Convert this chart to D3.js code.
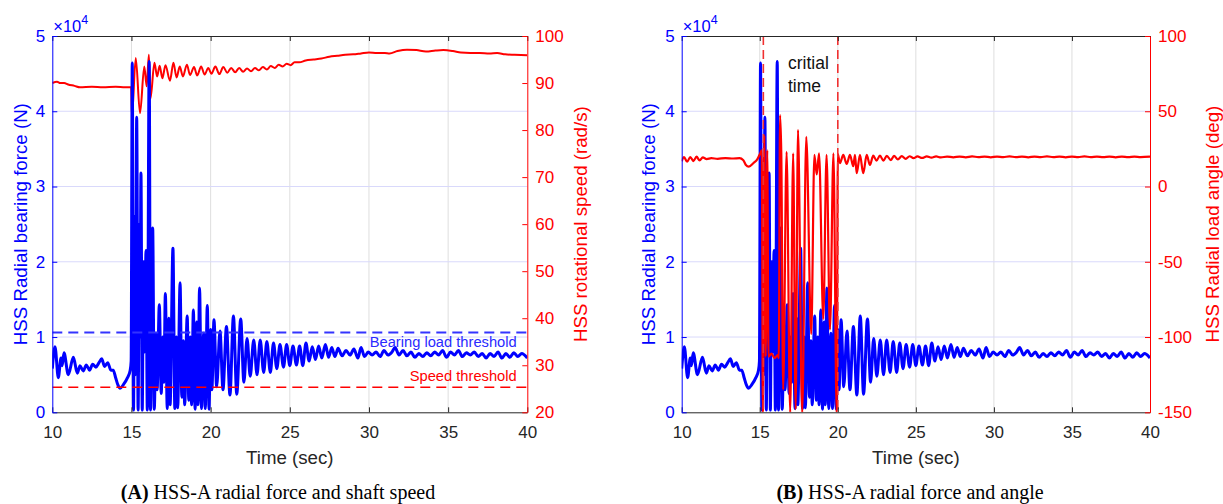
<!DOCTYPE html>
<html>
<head>
<meta charset="utf-8">
<script src="https://d3js.org/d3.v7.min.js"></script>
<style>
  body { margin: 0; background: #fff; }
  svg { display: block; font-family: "Liberation Sans", Arial, sans-serif; }
</style>
</head>
<body>
<svg width="1223" height="504"></svg>
<script>
// ---- data ----
var timeTicks  = [10, 15, 20, 25, 30, 35, 40];
var forceTicks = [0, 1, 2, 3, 4, 5];              // x 10^4 N
var speedTicks = [20, 30, 40, 50, 60, 70, 80, 90, 100];
var angleTicks = [-150, -100, -50, 0, 50, 100];

var bearingThreshold = 1.06;   // x 10^4 N
var speedThreshold = 25.3;     // rad/s
var criticalTimes = [15.23, 20];

// HSS radial bearing force (x 10^4 N), turning points
var forceT = [10.0,10.17,10.38,10.55,10.62,10.74,11.01,11.33,11.58,11.75,11.95,12.15,12.35,12.55,12.75,12.95,13.12,13.3,13.5,13.7,13.85,14.0,14.15,14.28,14.5,14.75,14.92,14.98,
  15.05,15.13,15.2,15.25,15.33,15.42,15.5,15.54,15.6,15.68,15.76,15.82,15.92,16.0,16.12,16.2,
  16.34,16.44,16.55,16.62,16.76,16.88,16.98,17.05,17.14,17.26,17.36,17.44,17.62,17.74,17.84,17.92,18.07,18.18,18.28,18.36,18.52,18.62,18.72,18.8,18.91,19.02,19.12,19.2,19.3,19.42,19.56,19.66,19.79,19.9,20.0,20.08,
  20.21,20.38,20.59,20.78,21.0,21.22,21.44,21.65,21.9,22.1,22.3,22.5,22.72,22.93,23.13,23.35,23.55,23.77,23.97,24.18,24.38,24.6,24.8,25.0,25.2,25.42,25.62,25.82,26.02,26.22,26.42,26.62,26.82,27.02,27.25,27.45,27.65,27.85,28.05,28.3,28.55,28.8,29.05,29.3,29.5,29.72,29.95,30.2,30.45,30.7,30.95,31.2,31.45,31.65,31.9,32.15,32.4,32.65,32.9,33.15,33.4,33.65,33.9,34.15,34.4,34.65,34.9,35.15,35.4,35.65,35.9,36.15,36.4,36.65,36.9,37.15,37.4,37.65,37.9,38.15,38.4,38.65,38.9,39.15,39.4,39.65,40.0];
var forceV = [0.58,0.87,0.46,0.72,0.62,0.79,0.50,0.73,0.52,0.62,0.55,0.63,0.56,0.64,0.60,0.66,0.71,0.61,0.66,0.56,0.56,0.46,0.36,0.32,0.37,0.46,0.56,0.68,
  4.64,0.03,2.6,0.5,3.92,0.03,2.5,1.0,3.18,0.03,2.0,0.8,2.15,0.03,4.66,0.03,
  2.45,0.04,1.05,0.3,1.43,0.25,1.0,0.4,1.58,0.05,1.25,0.1,2.18,0.05,1.0,0.06,1.72,0.2,0.95,0.1,1.28,0.16,1.0,0.1,1.36,0.04,1.2,0.1,1.65,0.05,1.05,0.05,1.42,0.04,1.1,0.3,
  1.23,0.34,1.08,0.30,1.14,0.23,1.28,0.24,1.24,0.40,0.98,0.48,0.96,0.50,0.96,0.53,0.94,0.53,0.92,0.58,0.90,0.60,0.90,0.62,0.88,0.63,0.88,0.62,0.92,0.68,0.87,0.70,0.88,0.72,0.90,0.73,0.86,0.74,0.85,0.75,0.82,0.76,0.84,0.72,0.86,0.74,0.80,0.76,0.80,0.74,0.82,0.76,0.80,0.86,0.76,0.82,0.75,0.80,0.73,0.78,0.74,0.79,0.75,0.80,0.76,0.82,0.73,0.80,0.76,0.82,0.74,0.79,0.76,0.80,0.74,0.78,0.72,0.78,0.74,0.80,0.72,0.78,0.73,0.79,0.74,0.78,0.72];

// HSS rotational speed (rad/s)
var speedT = [10.0,10.3,10.5,10.75,11.0,11.4,11.75,12.5,13.2,14.0,14.6,14.98,15.03,15.27,15.54,15.81,15.96,16.1,16.2,16.45,16.62,16.78,16.95,17.15,17.43,17.65,17.85,18.05,18.25,18.5,18.7,18.95,19.15,19.4,19.62,19.85,20.05,20.3,20.55,20.8,21.05,21.3,21.55,21.8,22.05,22.3,22.55,22.8,23.05,23.3,23.55,23.8,24.05,24.3,24.55,24.8,25.05,25.3,25.6,26.0,26.5,27.0,27.5,28.0,28.5,29.0,29.5,30.0,30.5,31.0,31.3,31.8,32.4,33.0,33.6,34.2,34.7,35.3,35.8,36.4,37.0,37.6,38.1,38.6,39.2,40.0];
var speedV = [90.0,90.3,90.0,90.0,89.7,89.4,89.1,89.2,89.1,89.2,89.1,89.1,82.9,95.3,83.6,93.5,89.3,96.0,86.7,94.3,91.4,93.7,91.0,93.8,90.5,94.3,91.2,93.5,91.4,93.9,91.7,93.4,91.6,93.5,91.8,93.2,92.0,93.5,91.9,93.4,92.2,93.2,92.3,93.2,92.4,93.1,92.5,93.2,92.7,93.4,92.9,93.6,93.2,93.9,93.5,94.1,93.8,94.4,94.4,94.8,95.0,95.2,95.6,95.8,96.0,96.1,96.3,96.5,96.4,96.4,96.3,96.8,97.1,97.0,96.7,96.9,97.0,96.8,96.5,96.4,96.4,96.3,96.4,96.1,96.0,95.9];

// HSS radial load angle (deg)
var angleT = [10.0,10.15,10.35,10.55,10.75,10.95,11.15,11.35,11.6,11.9,12.3,12.8,13.3,13.7,13.95,14.1,14.3,14.6,14.85,15.05,15.13,15.2,15.29,15.38,15.48,15.56,15.75,15.95,16.15,16.22,16.3,16.38,16.5,16.72,16.95,17.14,17.3,17.45,17.72,17.98,18.3,18.5,18.65,18.8,19.07,19.28,19.5,19.72,19.93,20.0,
  20.14,20.35,20.57,20.78,20.99,21.1,21.21,21.42,21.63,21.85,22.06,22.27,22.48,22.7,22.92,23.14,23.4,23.6,23.85,24.1,24.35,24.6,24.85,25.1,25.4,25.7,
  26.0,26.3,26.6,27.0,27.4,27.8,28.2,28.6,29.0,29.4,29.8,30.2,30.6,31.0,31.4,31.8,32.2,32.6,33.0,33.4,33.8,34.2,34.6,35.0,35.4,35.8,36.2,36.6,37.0,37.4,37.8,38.2,38.6,39.0,39.4,40.0];
var angleV = [16.8,19.5,16.5,19.6,16.9,19.8,17.3,19.3,18.2,18.8,18.4,18.9,18.6,18.8,17.5,14.5,13.2,15.6,18.2,22.5,24,-150,34,-113,24,-113,-111,-114,-112,-114,47.5,22,-135,23,-150,22,-148,37.7,-150,33,-98,21,8,22,-88,21,-95,22,-150,21.5,
  15.5,21,15,21,13.5,21,8.8,21,8.8,21,14.3,20.5,17.2,20.5,17.2,20.3,17.6,20.3,18,20.2,18.4,20.1,18.8,20,19.0,20,
  19.2,20.0,19.3,19.9,19.4,19.9,19.4,20.0,19.5,19.9,19.4,19.9,19.5,20.0,19.5,19.9,19.4,19.9,19.5,20.0,19.5,19.9,19.4,19.9,19.5,20.0,19.5,19.9,19.5,19.9,19.4,19.9,19.5,19.9,19.5,19.8];

var forceData = d3.zip(forceT, forceV);
var speedData = d3.zip(speedT, speedV);
var angleData = d3.zip(angleT, angleV);

var svg = d3.select("svg");
var BLUE = "#0000ff", RED = "#ff0000", DARK = "#262626";

function makePanel(p) {
    var x  = d3.scaleLinear().domain([10, 40]).range([p.x0, p.x1]);
    var yL = d3.scaleLinear().domain([0, 5]).range([p.y1, p.y0]);
    var yR = d3.scaleLinear().domain(p.rDomain).range([p.y1, p.y0]);
    var g = svg.append("g");

    g.append("clipPath").attr("id", p.id + "clip")
     .append("rect")
     .attr("x", p.x0).attr("y", p.y0)
     .attr("width", p.x1 - p.x0).attr("height", p.y1 - p.y0);

    // grid
    g.selectAll(".vgrid").data(timeTicks.slice(1, -1)).enter().append("line")
     .attr("x1", function(d) { return x(d); }).attr("x2", function(d) { return x(d); })
     .attr("y1", p.y0).attr("y2", p.y1)
     .attr("stroke", "#dedede").attr("stroke-width", 1);
    g.selectAll(".hgrid").data(forceTicks.slice(1, -1)).enter().append("line")
     .attr("x1", p.x0).attr("x2", p.x1)
     .attr("y1", function(d) { return yL(d); }).attr("y2", function(d) { return yL(d); })
     .attr("stroke", "#d9d9fb").attr("stroke-width", 1);

    var plot = g.append("g").attr("clip-path", "url(#" + p.id + "clip)");

    return { x: x, yL: yL, yR: yR, g: g, plot: plot };
}

function drawAxes(P, p) {
    var g = P.g;
    var bottom = g.append("g")
      .attr("transform", "translate(0," + p.y1 + ")")
      .call(d3.axisBottom(P.x).tickValues(timeTicks).tickSize(-5).tickSizeOuter(0).tickPadding(14));
    var top = g.append("g")
      .attr("transform", "translate(0," + p.y0 + ")")
      .call(d3.axisTop(P.x).tickValues(timeTicks).tickSize(-5).tickSizeOuter(0).tickFormat(""));
    [bottom, top].forEach(function(a) {
        a.attr("font-family", null).attr("font-size", 17);
        a.selectAll("path, line").attr("stroke", DARK);
        a.selectAll("text").attr("fill", DARK);
    });

    var left = g.append("g")
      .attr("transform", "translate(" + p.x0 + ",0)")
      .call(d3.axisLeft(P.yL).tickValues(forceTicks).tickSize(-5).tickSizeOuter(0).tickPadding(7)
            .tickFormat(function(d) { return String(d); }));
    left.attr("font-family", null).attr("font-size", 17);
    left.selectAll("path, line").attr("stroke", BLUE);
    left.selectAll("text").attr("fill", BLUE);

    var right = g.append("g")
      .attr("transform", "translate(" + p.x1 + ",0)")
      .call(d3.axisRight(P.yR).tickValues(p.rTicks).tickSize(-5).tickSizeOuter(0).tickPadding(8)
            .tickFormat(function(d) { return String(d); }));
    right.attr("font-family", null).attr("font-size", 17);
    right.selectAll("path, line").attr("stroke", RED);
    right.selectAll("text").attr("fill", RED);

    // exponent label
    var ex = g.append("text").attr("x", p.x0 + 1).attr("y", p.y0 - 4)
      .attr("font-size", 16.5).attr("fill", BLUE);
    ex.append("tspan").text("\u00d710");
    ex.append("tspan").attr("dy", -8).attr("font-size", 12.5).text("4");

    // axis titles
    var cy = (p.y0 + p.y1) / 2;
    g.append("text")
     .attr("transform", "translate(" + p.lLabelX + "," + cy + ") rotate(-90)")
     .attr("text-anchor", "middle").attr("dy", "0.35em")
     .attr("font-size", 18.7).attr("fill", BLUE)
     .text("HSS Radial bearing force (N)");
    g.append("text")
     .attr("transform", "translate(" + p.rLabelX + "," + cy + ") rotate(-90)")
     .attr("text-anchor", "middle").attr("dy", "0.35em")
     .attr("font-size", 18.7).attr("fill", RED)
     .text(p.rLabel);
    g.append("text")
     .attr("x", (p.x0 + p.x1) / 2).attr("y", 464)
     .attr("text-anchor", "middle").attr("font-size", 18.7).attr("fill", DARK)
     .text("Time (sec)");

    // caption
    var cap = g.append("text")
     .attr("x", p.capX).attr("y", 499)
     .attr("text-anchor", "middle")
     .attr("font-family", "'Liberation Serif', 'Times New Roman', serif")
     .attr("font-size", 20).attr("fill", "#000");
    cap.append("tspan").attr("font-weight", "bold").text(p.capTag);
    cap.append("tspan").text(" " + p.capText);
}

// ---------- panel A: force and shaft speed ----------
var pA = { id: "A", x0: 52.3, x1: 527.3, y0: 36, y1: 412.3,
           rDomain: [20, 100], rTicks: speedTicks,
           lLabelX: 20, rLabelX: 580, rLabel: "HSS rotational speed (rad/s)",
           capX: 278, capTag: "(A)", capText: "HSS-A radial force and shaft speed" };
var A = makePanel(pA);

var lineSpeed = d3.line().x(function(d) { return A.x(d[0]); }).y(function(d) { return A.yR(d[1]); })
                  .curve(d3.curveMonotoneX);
var lineForceA = d3.line().x(function(d) { return A.x(d[0]); }).y(function(d) { return A.yL(d[1]); })
                  .curve(d3.curveMonotoneX);

A.plot.append("path").datum(speedData).attr("d", lineSpeed)
  .attr("fill", "none").attr("stroke", RED).attr("stroke-width", 2).attr("stroke-linejoin", "round");
A.plot.append("path").datum(forceData).attr("d", lineForceA)
  .attr("fill", "none").attr("stroke", BLUE).attr("stroke-width", 3).attr("stroke-linejoin", "round");

A.plot.append("line")
  .attr("x1", pA.x0).attr("x2", pA.x1)
  .attr("y1", A.yL(bearingThreshold)).attr("y2", A.yL(bearingThreshold))
  .attr("stroke", "#3333ff").attr("stroke-width", 2.2).attr("stroke-dasharray", "10,6");
A.plot.append("line")
  .attr("x1", pA.x0).attr("x2", pA.x1)
  .attr("y1", A.yR(speedThreshold)).attr("y2", A.yR(speedThreshold))
  .attr("stroke", RED).attr("stroke-width", 1.5).attr("stroke-dasharray", "10,6");

A.g.append("text").attr("x", 516.7).attr("y", 346.7).attr("text-anchor", "end")
  .attr("font-size", 14.7).attr("fill", "#2a2aff").text("Bearing load threshold");
A.g.append("text").attr("x", 516.7).attr("y", 380.7).attr("text-anchor", "end")
  .attr("font-size", 14.7).attr("fill", RED).text("Speed threshold");

drawAxes(A, pA);

// ---------- panel B: force and load angle ----------
var pB = { id: "B", x0: 681.7, x1: 1150, y0: 36, y1: 412.3,
           rDomain: [-150, 100], rTicks: angleTicks,
           lLabelX: 648, rLabelX: 1212, rLabel: "HSS Radial load angle (deg)",
           capX: 910, capTag: "(B)", capText: "HSS-A radial force and angle" };
var B = makePanel(pB);

var lineForceB = d3.line().x(function(d) { return B.x(d[0]); }).y(function(d) { return B.yL(d[1]); })
                  .curve(d3.curveMonotoneX);
var lineAngle = d3.line().x(function(d) { return B.x(d[0]); }).y(function(d) { return B.yR(d[1]); })
                  .curve(d3.curveMonotoneX);

B.plot.append("path").datum(forceData).attr("d", lineForceB)
  .attr("fill", "none").attr("stroke", BLUE).attr("stroke-width", 3).attr("stroke-linejoin", "round");
B.plot.append("path").datum(angleData).attr("d", lineAngle)
  .attr("fill", "none").attr("stroke", RED).attr("stroke-width", 2.2).attr("stroke-linejoin", "round");

B.plot.selectAll(".crit").data(criticalTimes).enter().append("line")
  .attr("x1", function(d) { return B.x(d); }).attr("x2", function(d) { return B.x(d); })
  .attr("y1", pB.y0).attr("y2", pB.y1)
  .attr("stroke", "#f03030").attr("stroke-width", 1.6).attr("stroke-dasharray", "9,5");

var crit = B.g.append("text").attr("x", 788).attr("y", 69.3)
  .attr("font-size", 17.5).attr("fill", "#111");
crit.append("tspan").attr("x", 788).text("critial");
crit.append("tspan").attr("x", 788).attr("dy", 22.4).text("time");

drawAxes(B, pB);
</script>
</body>
</html>
